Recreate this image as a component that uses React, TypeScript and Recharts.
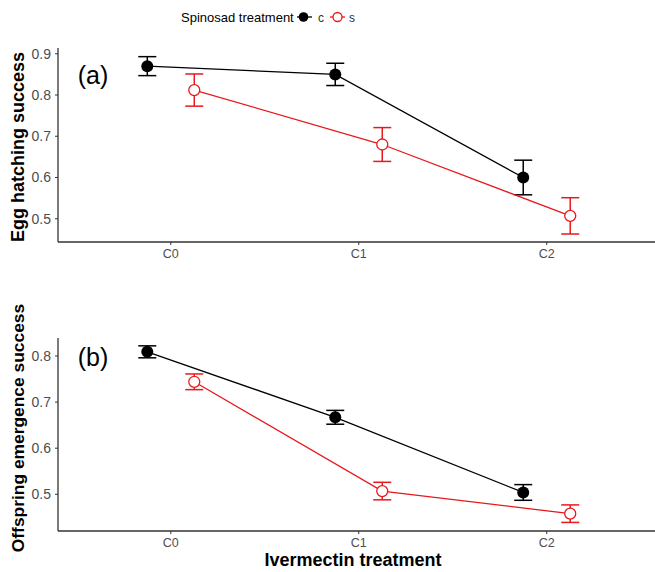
import { ScatterChart, Scatter, XAxis, YAxis, ErrorBar, Label } from 'recharts';

const categories = ['C0', 'C1', 'C2'];
const dodge = 0.125;

// (a) egg hatching success
const hatchC = [0.870, 0.850, 0.600];
const hatchCErr = [0.023, 0.027, 0.042];
const hatchS = [0.812, 0.680, 0.507];
const hatchSErr = [0.039, 0.041, 0.044];

// (b) offspring emergence success
const emergC = [0.809, 0.667, 0.504];
const emergCErr = [0.013, 0.015, 0.017];
const emergS = [0.744, 0.507, 0.458];
const emergSErr = [0.017, 0.019, 0.019];

const hatchTicks = [0.5, 0.6, 0.7, 0.8, 0.9];
const emergTicks = [0.5, 0.6, 0.7, 0.8];

const RED = '#e8191c';
const AXIS = '#333333';
const TICK_TXT = '#4d4d4d';
const FONT = '"Liberation Sans", Arial, sans-serif';

const toRows = (vals: number[], errs: number[], shift: number) =>
  vals.map((y, i) => ({ x: i + shift, y, err: errs[i] }));

const BlackDot = (p: any) => <circle cx={p.cx} cy={p.cy} r={6} fill="#000" />;
const OpenDot = (p: any) => (
  <circle cx={p.cx} cy={p.cy} r={5.5} fill="#fff" stroke={RED} strokeWidth={1.3} />
);

const Panel = ({
  c, cErr, s, sErr, domain, ticks, title, titleSize, tag, height, top, plotTop, xAxisHeight, titleY, tagY, xTitle,
}: any) => (
  <div style={{ position: 'absolute', left: 0, top }}>
    <ScatterChart width={655} height={height} margin={{ top: plotTop, right: 0, bottom: 0, left: 0 }}>
      <XAxis
        type="number"
        dataKey="x"
        domain={[-0.6, 2.576]}
        ticks={[0, 1, 2]}
        tickFormatter={(v: number) => categories[v]}
        allowDataOverflow
        height={xAxisHeight}
        axisLine={{ stroke: AXIS, strokeWidth: 1.3 }}
        tickLine={{ stroke: AXIS }}
        tickSize={3}
        tickMargin={4}
        tick={{ fill: TICK_TXT, fontSize: 12.5, fontFamily: FONT }}
      >
        {xTitle && (
          <Label
            content={() => (
              <text x={353} y={290} textAnchor="middle" dominantBaseline="central"
                fontFamily={FONT} fontWeight="bold" fontSize={18} fill="#000">
                {xTitle}
              </text>
            )}
          />
        )}
      </XAxis>
      <YAxis
        type="number"
        dataKey="y"
        domain={domain}
        ticks={ticks}
        allowDataOverflow
        width={58}
        axisLine={{ stroke: AXIS, strokeWidth: 1.3 }}
        tickLine={{ stroke: AXIS }}
        tickSize={3}
        tickMargin={4}
        tick={{ fill: TICK_TXT, fontSize: 14, fontFamily: FONT }}
      >
        <Label
          content={() => (
            <g>
              <text x={18} y={titleY} transform={`rotate(-90, 18, ${titleY})`} textAnchor="middle"
                dominantBaseline="central" fontFamily={FONT} fontWeight="bold" fontSize={titleSize} fill="#000">
                {title}
              </text>
              <text x={93} y={tagY} textAnchor="middle" dominantBaseline="central"
                fontFamily={FONT} fontSize={25} fill="#000">
                {tag}
              </text>
            </g>
          )}
        />
      </YAxis>
      <Scatter
        data={toRows(c, cErr, -dodge)}
        line={{ stroke: '#000', strokeWidth: 1.3 }}
        shape={BlackDot}
        isAnimationActive={false}
      >
        <ErrorBar dataKey="err" direction="y" width={9} stroke="#000" strokeWidth={1.5} />
      </Scatter>
      <Scatter
        data={toRows(s, sErr, dodge)}
        line={{ stroke: RED, strokeWidth: 1.3 }}
        shape={OpenDot}
        isAnimationActive={false}
      >
        <ErrorBar dataKey="err" direction="y" width={9} stroke={RED} strokeWidth={1.5} />
      </Scatter>
    </ScatterChart>
  </div>
);

const LegendBar = () => (
  <svg width={655} height={34} style={{ position: 'absolute', left: 0, top: 0 }}>
    <text x={181} y={21.5} fontFamily={FONT} fontSize={13} fill="#000">Spinosad treatment</text>
    <line x1={297} y1={17} x2={312} y2={17} stroke="#000" strokeWidth={1.3} />
    <circle cx={303.5} cy={17} r={4.8} fill="#000" />
    <text x={318} y={21.5} fontFamily={FONT} fontSize={12} fill="#333">c</text>
    <line x1={330} y1={17} x2={345} y2={17} stroke={RED} strokeWidth={1.3} />
    <circle cx={337.5} cy={17} r={4.5} fill="#fff" stroke={RED} strokeWidth={1.3} />
    <text x={349} y={21.5} fontFamily={FONT} fontSize={12} fill="#333">s</text>
  </svg>
);

export default function App() {
  return (
    <div style={{ position: 'absolute', left: 0, top: 0, width: 655, height: 572, background: '#fff' }}>
      <LegendBar />
      <Panel
        c={hatchC} cErr={hatchCErr} s={hatchS} sErr={hatchSErr}
        domain={[0.4436, 0.914]} ticks={hatchTicks}
        title="Egg hatching success" titleSize={18} tag="(a)"
        top={0} plotTop={48} height={266} xAxisHeight={24}
        titleY={147} tagY={75}
      />
      <div style={{ position: 'absolute', left: 0, top: 270 }}>
        <Panel
          c={emergC} cErr={emergCErr} s={emergS} sErr={emergSErr}
          domain={[0.4204, 0.839]} ticks={emergTicks}
          title="Offspring emergence success" titleSize={17.4} tag="(b)"
          top={0} plotTop={68} height={302} xAxisHeight={41}
          titleY={158} tagY={87}
          xTitle="Ivermectin treatment"
        />
      </div>
    </div>
  );
}
